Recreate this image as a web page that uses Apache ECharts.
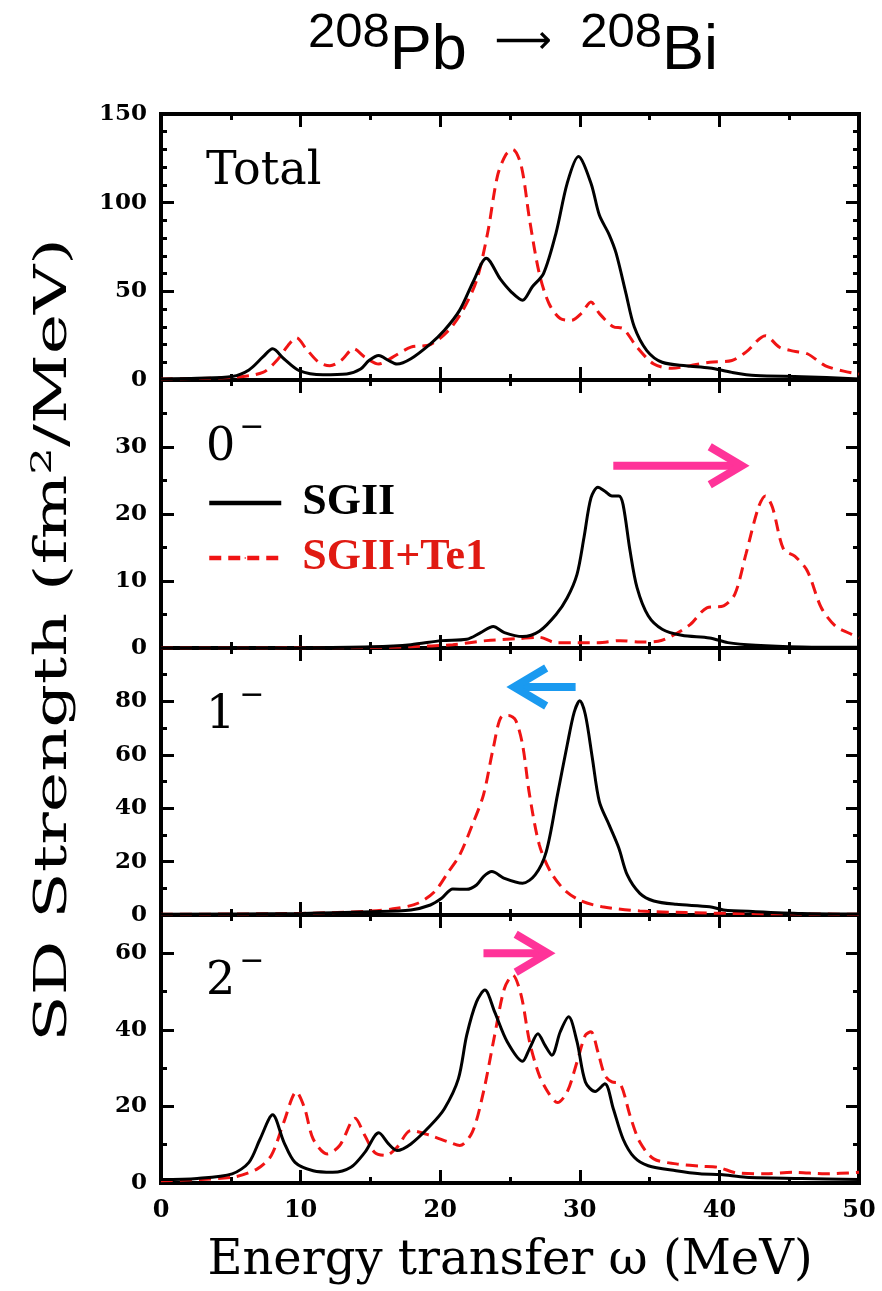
<!DOCTYPE html>
<html>
<head>
<meta charset="utf-8">
<script src="https://cdn.jsdelivr.net/npm/echarts@6/dist/echarts.min.js"></script>
<style>
  html, body { margin: 0; padding: 0; background: #fff; }
  #chart { width: 882px; height: 1291px; }
</style>
</head>
<body>
<div id="chart"></div>
<script>
// [energy transfer (MeV), SD strength (fm^2/MeV)]
var totalSGII = [[0,0.6],[2.6,1],[5.1,2],[6.3,5.7],[7.3,13],[8,17.6],[8.8,12],[9.9,5.3],[11.6,3],[13.3,3.4],[14.3,6.2],[14.9,11],[15.6,13.8],[16.3,11],[16.9,9],[17.9,12],[19.3,20.4],[20.3,28],[21.4,39.4],[22.4,56],[23.3,68.7],[24.3,57],[25.1,49.6],[25.9,45],[26.6,52.6],[27.4,60],[28.3,83],[29.1,111],[29.9,126],[30.8,111],[31.4,93],[32.1,82],[32.6,71.5],[33.3,49],[33.9,30],[34.8,16.6],[35.9,10],[37.6,8],[39.3,6.8],[40.9,4.3],[42.6,2.5],[45.9,1.9],[50,0.6]];
var totalTe1 = [[0,0.6],[5.1,1.5],[7.3,4.3],[8.4,12],[9.1,19.5],[9.7,23.8],[10.4,17.6],[11.3,10],[12.1,8],[12.9,11],[13.8,17.6],[14.6,12.9],[15.6,9],[16.6,12.9],[17.9,18.5],[19.3,20],[20.6,28],[21.6,39],[22.6,56],[23.4,83],[24.1,115],[24.7,127],[25.2,130],[25.8,121],[26.4,90.5],[27.1,60],[27.8,43],[28.6,34.7],[29.4,33.7],[30.1,37.5],[30.8,44],[31.4,37.5],[32.4,30],[33.1,29],[34.1,18.5],[35.3,9],[36.6,6.6],[37.9,8.1],[39.3,10],[40.9,11],[41.9,15.7],[43.3,25],[44.3,18.5],[45.3,16.3],[46.3,14.8],[47.6,8],[48.9,5],[50,3.4]];
var zeroSGII = [[0,0],[10,0.05],[15.1,0.2],[17.9,0.5],[20.1,1.1],[21.9,1.3],[22.9,2.3],[23.8,3.2],[24.6,2.3],[25.9,1.7],[27.1,2.5],[28.3,5],[29.1,7.5],[29.8,11],[30.3,16.5],[30.8,22.4],[31.3,24],[31.8,23.4],[32.3,22.7],[32.8,22.7],[33.1,21.4],[33.6,14.5],[34.1,9],[34.9,4.8],[35.9,2.8],[37.3,1.9],[39.3,1.5],[40.6,0.8],[42.6,0.4],[45.9,0.15],[50,0.1]];
var zeroTe1 = [[0,0],[13.3,0.05],[17.9,0.2],[20.9,0.5],[23.3,1.1],[25.6,1.4],[27.1,1.6],[28.3,0.8],[29.9,0.8],[31.3,0.8],[32.9,1.1],[34.3,0.9],[35.6,1],[36.6,1.8],[37.9,3.5],[39.1,6],[40.3,6.3],[41.1,8],[41.9,14],[42.8,21],[43.3,22.7],[43.8,21],[44.6,14.7],[45.4,13.7],[46.3,11.5],[47.3,6],[48.3,3.3],[49.3,2.2],[50,1.5]];
var oneSGII = [[0,0.25],[10.1,0.6],[15.1,1.2],[17.9,1.9],[19.3,3.75],[20.1,6.25],[20.9,9.75],[21.9,9.6],[22.6,11.25],[23.1,14.4],[23.7,16.25],[24.6,13.75],[25.9,11.9],[26.8,15],[27.6,23.75],[28.4,45],[29.1,63.75],[29.6,76],[30,80.25],[30.4,75],[30.9,58.75],[31.4,42.5],[32.1,33.75],[32.8,25],[33.4,15],[34.3,8.1],[35.3,5.25],[36.9,4],[39.3,3.1],[40.3,1.9],[42.6,1.25],[45.9,0.6],[50,0.4]];
var oneTe1 = [[0,0.25],[10.1,0.6],[15.1,1.5],[16.9,2.5],[18.4,4.4],[19.6,8.75],[20.6,16.25],[21.4,22.5],[22.3,33.75],[23.1,45],[23.8,62.5],[24.4,74.4],[24.9,74.75],[25.4,73],[25.9,63.75],[26.4,45],[27.1,26.25],[27.9,16.25],[28.9,9.4],[30.1,5.25],[31.6,3.1],[34.3,1.5],[37.6,0.9],[40.9,0.6],[45.9,0.4],[50,0.25]];
var twoSGII = [[0,0.9],[2.6,1.2],[5.1,2.4],[6.3,5.4],[7.1,11.5],[8,17.8],[8.8,10.7],[9.6,5.4],[10.9,3.2],[12.3,2.8],[13.6,4.1],[14.6,8],[15.6,13.1],[16.3,10.2],[16.9,8.5],[17.9,10.2],[19.3,15],[20.3,19.4],[21.3,27.2],[21.9,38.6],[22.6,47.3],[23.2,50.4],[23.9,44.7],[24.8,36.9],[25.9,31.8],[26.4,35.1],[27,39],[27.5,36],[28,33.4],[28.6,39.5],[29.2,43.4],[29.8,36.9],[30.4,26.4],[31.1,23.9],[31.8,25.9],[32.4,19.4],[33.1,11.5],[33.9,6.7],[34.9,4.5],[36.9,3.2],[38.6,2.4],[40.1,2.2],[41.9,1.5],[45.9,1.2],[50,0.9]];
var twoTe1 = [[0,0.6],[5.1,1.5],[6.9,3.7],[7.9,7.2],[8.8,15.9],[9.7,23.8],[10.3,19.4],[10.9,11.5],[11.9,7.6],[12.8,9.8],[13.9,16.9],[14.6,12.4],[15.3,8],[16.1,7.2],[16.9,9.3],[17.9,13.7],[19.3,12.4],[20.6,10.7],[21.4,9.8],[22.3,13.3],[23.1,23.8],[23.9,38.6],[24.6,50.8],[25.2,54.3],[25.8,49],[26.4,36.9],[27.1,28.1],[27.8,23.3],[28.4,21],[29.1,23.8],[29.8,31.6],[30.4,38.6],[30.8,39.5],[31.3,34.2],[31.8,28.1],[32.3,26.4],[32.9,25.9],[33.6,17.6],[34.3,10.7],[35.3,6.3],[36.9,5],[38.6,4.4],[39.9,4.1],[41.3,2.6],[43.3,2.4],[45.3,2.8],[47.6,2.4],[50,2.8]];

var seriesNames = ['SGII', 'SGII+Te1'];
var panelLabels = ['Total', '0', '1', '2'];
var yMax = [150, 40, 100, 70];
var yInterval = [50, 10, 20, 20];
var yMinorSplit = [5, 2, 2, 2];
var xMin = 0, xMax = 50, xInterval = 10;
// shift arrows: [panel, from [E, S], to [E, S]]
var arrows = [
  [1, [32.4, 27.2], [41.6, 27.2]],
  [2, [29.7, 85.4], [25.3, 85.4]],
  [3, [23.1, 60], [27.7, 60]]
];

var panelData = [[totalSGII, totalTe1], [zeroSGII, zeroTe1], [oneSGII, oneTe1], [twoSGII, twoTe1]];

var gridTop = [114, 380, 648, 915];
var gridH = [266, 268, 267, 268];
var labelFont = 'DejaVu Serif';
var axisW = 4;

var chart = echarts.init(document.getElementById('chart'));

var grids = [], xAxes = [], yAxes = [], series = [];
for (var g = 0; g < 4; g++) {
  grids.push({ left: 161, right: 23, top: gridTop[g], height: gridH[g], show: false });
  var last = g === 3;
  ['bottom', 'top'].forEach(function (pos) {
    xAxes.push({
      gridIndex: g, type: 'value', position: pos, min: xMin, max: xMax, interval: xInterval,
      axisLine: { show: true, onZero: false, lineStyle: { color: '#000', width: axisW, cap: 'square' } },
      axisTick: { show: true, inside: true, length: 13, lineStyle: { color: '#000', width: 3 } },
      minorTick: { show: true, splitNumber: 2, length: 6, lineStyle: { color: '#000', width: 3 } },
      splitLine: { show: false },
      axisLabel: { show: last && pos === 'bottom', margin: 16, color: '#000', fontFamily: labelFont, fontWeight: 'bold', fontSize: 24 }
    });
  });
  ['left', 'right'].forEach(function (pos) {
    yAxes.push({
      gridIndex: g, type: 'value', position: pos, min: 0, max: yMax[g], interval: yInterval[g],
      axisLine: { show: true, onZero: false, lineStyle: { color: '#000', width: axisW, cap: 'square' } },
      axisTick: { show: true, inside: true, length: 13, lineStyle: { color: '#000', width: 3 } },
      minorTick: { show: true, splitNumber: yMinorSplit[g], length: 6, lineStyle: { color: '#000', width: 3 } },
      splitLine: { show: false },
      axisLabel: { show: pos === 'left', showMaxLabel: g === 0, margin: 14, color: '#000', fontFamily: labelFont, fontWeight: 'bold', fontSize: 23 }
    });
  });
  series.push({
    name: seriesNames[1], type: 'line', xAxisIndex: 2 * g, yAxisIndex: 2 * g,
    data: panelData[g][1], showSymbol: false, symbol: 'none', smooth: 0.3,
    lineStyle: { color: '#f01414', width: 3, type: [12, 7] }, itemStyle: { color: '#f01414' }, z: 2
  });
  series.push({
    name: seriesNames[0], type: 'line', xAxisIndex: 2 * g, yAxisIndex: 2 * g,
    data: panelData[g][0], showSymbol: false, symbol: 'none', smooth: 0.3,
    lineStyle: { color: '#000', width: 3 }, itemStyle: { color: '#000' }, z: 3
  });
}

var supMinus = { fontSize: 30, fontFamily: 'DejaVu Sans', fontWeight: 'normal', color: '#000', padding: [0, 0, 28, 4], verticalAlign: 'bottom' };
var panelText = { fontSize: 46, fontFamily: labelFont, fontWeight: 'normal', color: '#000', verticalAlign: 'bottom', lineHeight: 50 };
var titleSans = 'Liberation Sans';
var titles = [{
  text: '{s|208}{m|Pb}{a|⟶}{s|208}{m|Bi}',
  left: 303, top: 4,
  textStyle: {
    rich: {
      s: { fontFamily: titleSans, fontWeight: 'normal', fontSize: 49, color: '#000', padding: [0, 0, 25, 0], verticalAlign: 'bottom' },
      m: { fontFamily: titleSans, fontWeight: 'normal', fontSize: 63, color: '#000', verticalAlign: 'bottom', lineHeight: 72 },
      a: { fontFamily: 'DejaVu Sans', fontWeight: 'normal', fontSize: 40, color: '#000', padding: [0, 28, 20, 28], verticalAlign: 'bottom' }
    }
  }
}];
var labelTops = [140, 408, 676, 942];
for (var p = 0; p < 4; p++) {
  titles.push({
    text: p === 0 ? '{t|Total}' : '{t|' + panelLabels[p] + '}{u|−}',
    left: 201, top: labelTops[p],
    textStyle: { rich: { t: panelText, u: supMinus } }
  });
}

var axisTitles = [
  {
    type: 'text', x: 55, y: 640, rotation: Math.PI / 2, scaleX: 1.55,
    style: {
      text: 'SD Strength (fm{s|2}/MeV)',
      fontFamily: labelFont, fontSize: 44, fill: '#000', align: 'center', verticalAlign: 'middle',
      rich: { s: { fontFamily: labelFont, fontSize: 28, padding: [0, 0, 22, 0], verticalAlign: 'bottom' } }
    }
  },
  {
    type: 'text', x: 510, y: 1262,
    style: {
      text: 'Energy transfer ω (MeV)',
      fontFamily: labelFont, fontSize: 48, fill: '#000', align: 'center', verticalAlign: 'middle'
    }
  }
];

chart.setOption({
  animation: false,
  backgroundColor: '#fff',
  title: titles,
  legend: {
    data: [
      { name: seriesNames[0], textStyle: { color: '#000' } },
      { name: seriesNames[1], textStyle: { color: '#e01a12' } }
    ],
    orient: 'vertical', left: 202, top: 476,
    itemWidth: 72, itemHeight: 2, itemGap: 11,
    lineStyle: { width: 4.5 },
    textStyle: { fontFamily: 'Liberation Serif', fontWeight: 'bold', fontSize: 44, lineHeight: 44, padding: [0, 0, 0, 16] }
  },
  grid: grids,
  xAxis: xAxes,
  yAxis: yAxes,
  series: series,
  graphic: axisTitles
});

// shift arrows, placed in data coordinates of their panel
var arrowColors = ['#ff3399', '#1a9af0', '#ff3399'];
var arrowGraphics = arrows.map(function (a, i) {
  var g = a[0];
  var p0 = chart.convertToPixel({ xAxisIndex: 2 * g, yAxisIndex: 2 * g }, a[1]);
  var p1 = chart.convertToPixel({ xAxisIndex: 2 * g, yAxisIndex: 2 * g }, a[2]);
  var dir = p1[0] > p0[0] ? 1 : -1;
  var style = { stroke: arrowColors[i], lineWidth: 8, fill: null, lineJoin: 'miter' };
  return {
    type: 'group', children: [
      { type: 'line', shape: { x1: p0[0], y1: p0[1], x2: p1[0] - dir * 4, y2: p1[1] }, style: style },
      { type: 'polyline', shape: { points: [[p1[0] - dir * 32, p1[1] - 19], [p1[0], p1[1]], [p1[0] - dir * 32, p1[1] + 19]] }, style: style }
    ]
  };
});
chart.setOption({ graphic: axisTitles.concat(arrowGraphics) });
</script>
</body>
</html>
